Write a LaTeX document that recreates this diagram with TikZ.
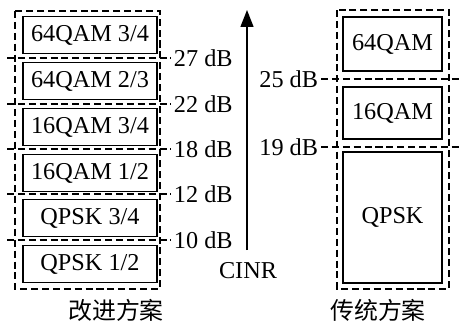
\documentclass[tikz,border=0pt]{standalone}
\usepackage{fontspec}
\setmainfont{Liberation Serif}
\newfontfamily\cjk{Noto Sans CJK SC}
\usepackage{tikz}
\usetikzlibrary{arrows.meta, positioning}
\tikzset{
	mcsbox/.style   ={rectangle, draw=black, line width=1.1pt, minimum width=2.68cm, minimum height=0.74cm, inner sep=0pt, align=center},
	oldbox/.style   ={rectangle, draw=black, line width=1.1pt, minimum width=1.98cm, inner sep=0pt, align=center},
	zone/.style     ={draw=black, line width=0.9pt, dash pattern=on 4pt off 2.2pt},
	thr/.style      ={draw=black, line width=0.9pt, dash pattern=on 4pt off 2.2pt},
	dblab/.style    ={inner sep=1.5pt},
	schemelab/.style={font=\cjk\fontsize{13.6}{16}\selectfont},
	cinr/.style     ={-{Triangle[length=0.34cm, width=0.26cm]}, line width=0.8pt},
}

\begin{document}
\begin{tikzpicture}[x=0.02cm, y=-0.02cm, font=\fontsize{13.8}{16}\selectfont]
	\useasboundingbox (0,0) rectangle (459,325);
	% improved scheme: six MCS levels
	\draw[zone] (15,11) rectangle (160,289);
	\foreach \i/\yc/\txt in {
		1/35/{64QAM 3/4},
		2/81/{64QAM 2/3},
		3/127/{16QAM 3/4},
		4/173/{16QAM 1/2},
		5/218/{QPSK 3/4},
		6/264/{QPSK 1/2}} {
		\node[mcsbox] (m\i) at (90,\yc) {\txt};
	}
	\foreach \yc/\db in {58/27, 104/22, 149/18, 194/12, 240/10} {
		\node[dblab, anchor=west] (l\db) at (171,\yc) {\db~dB};
		\coordinate (s\db) at (7,\yc);
		\draw[thr] (s\db) -- (l\db.west);
	}
	\node[schemelab] (imp) at (116,310) {改进方案};
	% CINR axis
	\coordinate (cinrlo) at (247,250);
	\coordinate (cinrhi) at (247,10);
	\draw[cinr] (cinrlo) -- (cinrhi);
	\node (cinrlab) at (248,271) {CINR};
	% conventional scheme
	\draw[zone] (337,10) rectangle (449,289);
	\node[oldbox, minimum height=1.08cm] (q64) at (392.5,44) {64QAM};
	\node[oldbox, minimum height=1.04cm] (q16) at (392.5,113) {16QAM};
	\node[oldbox, minimum height=2.62cm] (qps) at (392.5,217.5) {QPSK};
	\foreach \yc/\db in {79/25, 147/19} {
		\node[dblab, anchor=east] (r\db) at (321,\yc) {\db~dB};
		\coordinate (e\db) at (459,\yc);
		\draw[thr] (r\db.east) -- (e\db);
	}
	\node[schemelab] (con) at (378,310) {传统方案};
\end{tikzpicture}
\end{document}
